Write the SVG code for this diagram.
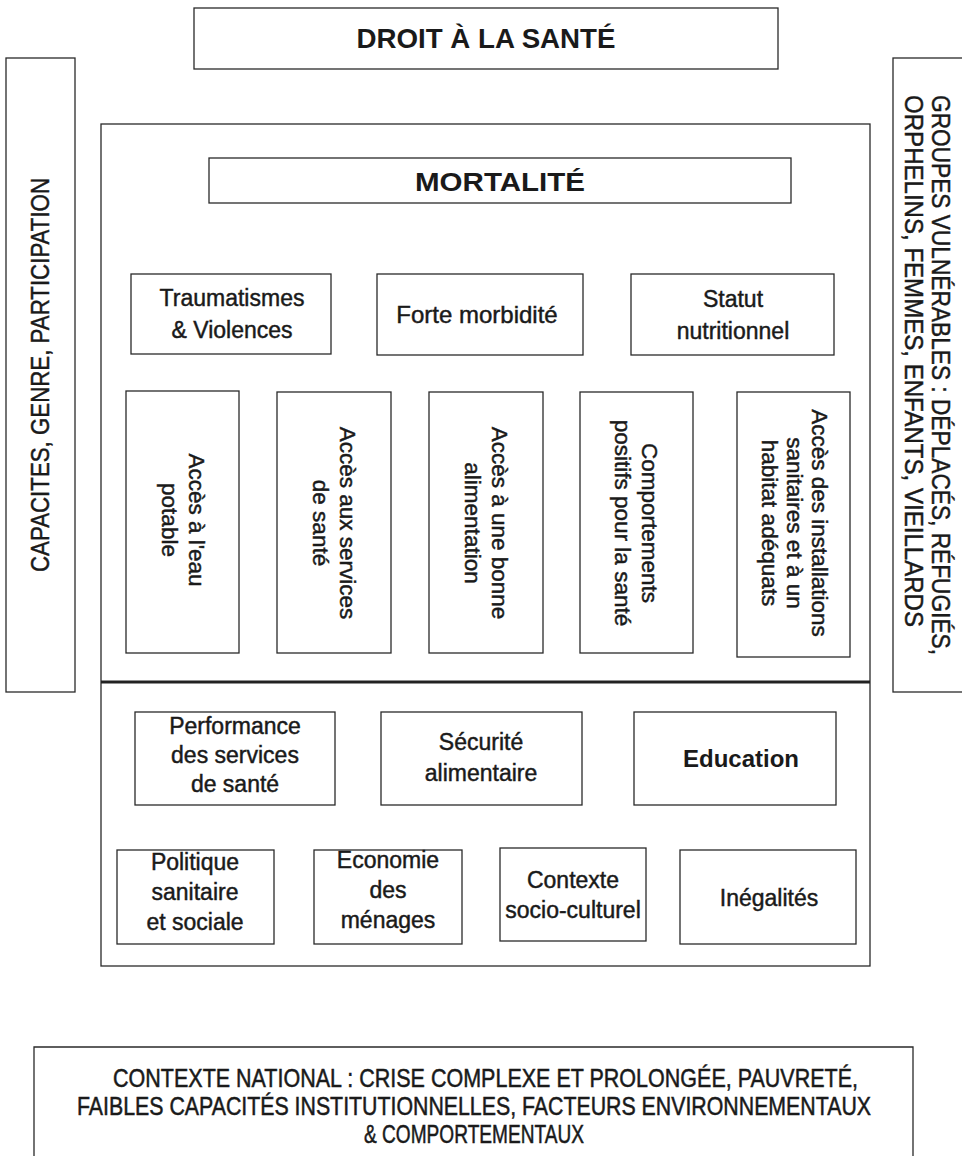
<svg xmlns="http://www.w3.org/2000/svg" width="962" height="1156" viewBox="0 0 962 1156">
<style>
rect,.box{fill:#fff;stroke:#2a2a2a;stroke-width:1.3}
text{fill:#1a1a1a;stroke:#1a1a1a;stroke-width:0.45;font-family:"Liberation Sans",Arial,sans-serif;text-anchor:middle}
.n{font-size:23px}
.b{font-weight:bold;stroke:none}
.v{font-size:22.5px}
.cap{font-size:26px}
</style>
<rect width="962" height="1156" style="fill:#fff;stroke:none"/>
<g id="droit"><rect x="194" y="8" width="584" height="61"/><text class="b" x="486" y="48" style="font-size:28px" textLength="259" lengthAdjust="spacingAndGlyphs">DROIT À LA SANTÉ</text></g>
<g id="capacites"><rect x="6" y="58" width="69" height="634"/><text class="cap" transform="translate(49,375) rotate(-90)" textLength="394" lengthAdjust="spacingAndGlyphs">CAPACITES, GENRE, PARTICIPATION</text></g>
<g id="groupes"><rect x="893" y="58" width="80" height="634"/><text class="cap" transform="translate(918,375) rotate(90)" style="text-anchor:start"><tspan x="-280" y="-14" textLength="560" lengthAdjust="spacingAndGlyphs">GROUPES VULNÉRABLES : DÉPLACÉS, RÉFUGIÉS,</tspan><tspan x="-280" y="13" textLength="532" lengthAdjust="spacingAndGlyphs">ORPHELINS, FEMMES, ENFANTS,  VIEILLARDS</tspan></text></g>
<g id="cadre"><rect x="101" y="124" width="769" height="842"/><line x1="101" y1="682" x2="870" y2="682" stroke="#222" stroke-width="3"/></g>
<g id="mortalite"><rect x="209" y="158" width="582" height="45"/><text class="b" x="500" y="191" style="font-size:26px" textLength="170" lengthAdjust="spacingAndGlyphs">MORTALITÉ</text></g>
<g id="traumatismes"><rect x="131" y="274" width="200" height="80"/><text class="n" x="232" y="306">Traumatismes<tspan x="232" y="338">&amp; Violences</tspan></text></g>
<g id="morbidite"><rect x="377" y="274" width="206" height="81"/><text class="n" x="477" y="323" style="font-size:24px">Forte morbidité</text></g>
<g id="nutrition"><rect x="631" y="274" width="203" height="81"/><text class="n" x="733" y="307">Statut<tspan x="733" y="339">nutritionnel</tspan></text></g>
<g id="eau"><rect x="126" y="391" width="113" height="262"/><text class="v" transform="translate(183,520) rotate(90)"><tspan x="0" y="-6">Accès  à l'eau</tspan><tspan x="0" y="21">potable</tspan></text></g>
<g id="services"><rect x="277" y="392" width="114" height="261"/><text class="v" transform="translate(334,523) rotate(90)"><tspan x="0" y="-6">Accès aux services</tspan><tspan x="0" y="21">de santé</tspan></text></g>
<g id="alimentation"><rect x="429" y="392" width="114" height="261"/><text class="v" transform="translate(486,523) rotate(90)"><tspan x="0" y="-6">Accès à une bonne</tspan><tspan x="0" y="21">alimentation</tspan></text></g>
<g id="comportements"><rect x="580" y="392" width="113" height="261"/><text class="v" transform="translate(636,523) rotate(90)"><tspan x="0" y="-6">Comportements</tspan><tspan x="0" y="21">positifs pour la santé</tspan></text></g>
<g id="installations"><rect x="737" y="392" width="113" height="265"/><text class="v" transform="translate(793,523) rotate(90)"><tspan x="0" y="-19">Accès des installations</tspan><tspan x="0" y="6">sanitaires et à un</tspan><tspan x="0" y="31">habitat  adéquats</tspan></text></g>
<g id="performance"><rect x="135" y="712" width="200" height="93"/><text class="n" x="235" y="734">Performance<tspan x="235" y="763">des services</tspan><tspan x="235" y="792">de santé</tspan></text></g>
<g id="securite"><rect x="381" y="712" width="201" height="93"/><text class="n" x="481" y="750">Sécurité<tspan x="481" y="781">alimentaire</tspan></text></g>
<g id="education"><rect x="634" y="712" width="202" height="93"/><text class="b" x="741" y="767" style="font-size:24px">Education</text></g>
<g id="politique"><rect x="117" y="850" width="157" height="94"/><text class="n" x="195" y="870">Politique<tspan x="195" y="900">sanitaire</tspan><tspan x="195" y="930">et sociale</tspan></text></g>
<g id="economie"><rect x="314" y="850" width="148" height="94"/><text class="n" x="388" y="868">Economie<tspan x="388" y="898">des</tspan><tspan x="388" y="928">ménages</tspan></text></g>
<g id="contexte"><rect x="500" y="848" width="146" height="93"/><text class="n" x="573" y="888">Contexte<tspan x="573" y="918">socio-culturel</tspan></text></g>
<g id="inegalites"><rect x="680" y="850" width="176" height="94"/><text class="n" x="769" y="906">Inégalités</text></g>
<g id="national"><path class="box" d="M34,1156 V1047 H913 V1156"/><text transform="scale(1,1.25)" style="font-size:20px;text-anchor:start;stroke-width:0.4"><tspan x="113" y="869.6" textLength="745" lengthAdjust="spacingAndGlyphs">CONTEXTE NATIONAL : CRISE COMPLEXE ET PROLONGÉE,  PAUVRETÉ,</tspan><tspan x="77" y="892" textLength="794" lengthAdjust="spacingAndGlyphs">FAIBLES CAPACITÉS INSTITUTIONNELLES, FACTEURS ENVIRONNEMENTAUX</tspan><tspan x="364" y="914.4" textLength="220" lengthAdjust="spacingAndGlyphs">&amp; COMPORTEMENTAUX</tspan></text></g>
<g id="connecteurs"></g>
</svg>
